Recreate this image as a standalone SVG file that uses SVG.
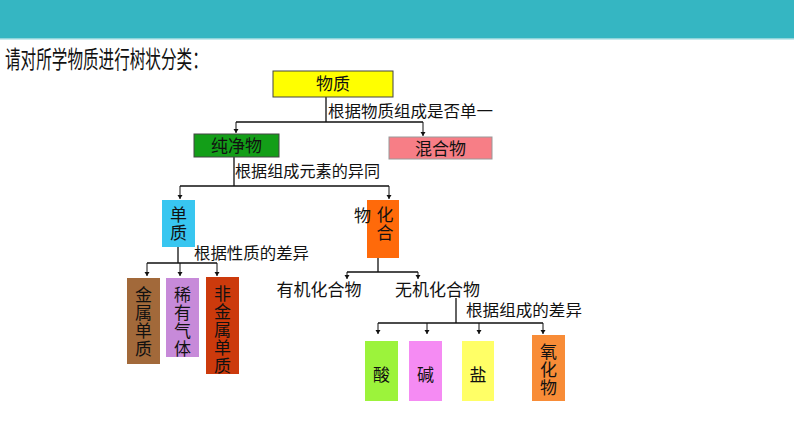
<svg xmlns="http://www.w3.org/2000/svg" width="794" height="447" viewBox="0 0 794 447">
<style>
text{font-family:"Noto Sans CJK SC","Noto Sans",sans-serif;fill:#111}
.t{font-size:16px}
.n{font-size:17px;text-anchor:middle}
.v{font-size:17px;writing-mode:vertical-rl;letter-spacing:1px}
.ln{stroke:#111;stroke-width:1.3;fill:none}
.ar{stroke:#111;stroke-width:1;fill:none;marker-end:url(#ah)}
.bx{stroke:#444;stroke-width:1}
</style>
<defs>
<marker id="ah" markerWidth="6" markerHeight="6" refX="4" refY="3" orient="auto" markerUnits="userSpaceOnUse"><path d="M0,0.5 L4,3 L0,5.5 Z" fill="#111"/></marker>
</defs>
<rect x="0" y="0" width="794" height="38" fill="#35B6C2"/>
<rect x="0" y="38" width="794" height="1.5" fill="#8FD5DB"/>
<text transform="translate(5,68) scale(0.65,1)" x="0" y="0" font-size="24">请对所学物质进行树状分类：</text>

<g id="connectors">
<path class="ln" d="M326,97 V122 M236,122 H423"/>
<path class="ar" d="M236,122 V133"/>
<path class="ar" d="M423,122 V136"/>
<path class="ln" d="M234,157 V186 M180,186 H389"/>
<path class="ar" d="M180,186 V199"/>
<path class="ar" d="M389,186 V199"/>
<path class="ln" d="M178,247 V263 M147,263 H217"/>
<path class="ar" d="M147,263 V276"/>
<path class="ar" d="M180,263 V276"/>
<path class="ar" d="M217,263 V276"/>
<path class="ln" d="M378,258 V272 M347,272 H418"/>
<path class="ar" d="M347,272 V279"/>
<path class="ar" d="M418,272 V279"/>
<path class="ln" d="M456,298 V323 M378,323 H543"/>
<path class="ar" d="M378,323 V334"/>
<path class="ar" d="M427,323 V334"/>
<path class="ar" d="M479,323 V334"/>
<path class="ar" d="M543,323 V334"/>
<text class="t" x="328" y="117" textLength="165" lengthAdjust="spacingAndGlyphs">根据物质组成是否单一</text>
<text class="t" x="235" y="177" textLength="145" lengthAdjust="spacingAndGlyphs">根据组成元素的异同</text>
<text class="t" x="194" y="259" textLength="115" lengthAdjust="spacingAndGlyphs">根据性质的差异</text>
<text class="t" x="466" y="316" textLength="116" lengthAdjust="spacingAndGlyphs">根据组成的差异</text>
</g>

<g id="wuzhi"><rect class="bx" x="273" y="71" width="120" height="26" fill="#FFFF00"/><text class="n" x="333" y="90">物质</text></g>
<g id="chunjingwu"><rect class="bx" x="194" y="134" width="85" height="23" fill="#139E18"/><text class="n" x="236.5" y="152">纯净物</text></g>
<g id="hunhewu"><rect x="389" y="137" width="103" height="22" fill="#F77E86" stroke="#999" stroke-width="1"/><text class="n" x="440.5" y="155">混合物</text></g>
<g id="danzhi"><rect x="162" y="200" width="33" height="47" fill="#38C6F0"/><text class="v" x="178.5" y="206">单质</text></g>
<g id="huahewu"><rect x="367" y="200" width="32" height="58" fill="#FF6A0A"/><text class="v" x="385" y="206">化合</text><text class="n" x="362.5" y="222">物</text></g>
<g id="jinshudanzhi"><rect x="127" y="278" width="33" height="86" fill="#A2693A"/><text class="v" x="143.5" y="286">金属单质</text></g>
<g id="xiyouqiti"><rect x="166" y="278" width="33" height="79" fill="#C78AD9"/><text class="v" x="182.5" y="286">稀有气体</text></g>
<g id="feijinshudanzhi"><rect x="206" y="277" width="33" height="97" fill="#CC3A0C"/><text class="v" x="222.5" y="285">非金属单质</text></g>
<g id="youji"><text class="n" x="319" y="296">有机化合物</text></g>
<g id="wuji"><text class="n" x="437.5" y="296">无机化合物</text></g>
<g id="suan"><rect x="365" y="341" width="33" height="60" fill="#9CF33B"/><text class="n" x="381.5" y="381">酸</text></g>
<g id="jian"><rect x="409" y="341" width="33" height="60" fill="#F58BF3"/><text class="n" x="425.5" y="381">碱</text></g>
<g id="yan"><rect x="462" y="341" width="32" height="60" fill="#FFFF66"/><text class="n" x="478" y="381">盐</text></g>
<g id="yanghuawu"><rect x="532" y="335" width="33" height="66" fill="#F88C37"/><text class="v" x="548.5" y="343">氧化物</text></g>
</svg>
